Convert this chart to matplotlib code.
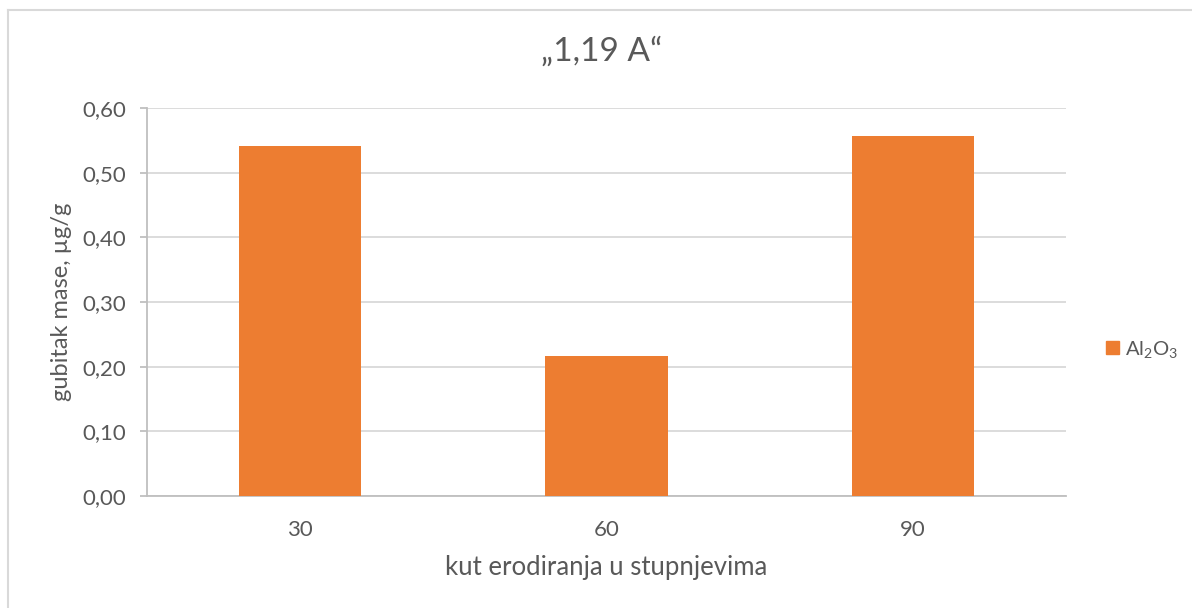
import matplotlib
matplotlib.use("Agg")
import matplotlib.pyplot as plt
import matplotlib.patches as mpatches
from matplotlib.lines import Line2D
import numpy as np

# Data
categories = ["30", "60", "90"]
values = [0.541, 0.216, 0.557]
series_name = "Al$_2$O$_3$"
title = "„1,19 A“"
y_ticks = [0.0, 0.1, 0.2, 0.3, 0.4, 0.5, 0.6]

ORANGE = "#ED7D31"
TEXT = "#595959"
GRID = "#D9D9D9"

plt.rcParams["font.family"] = ["Lato", "DejaVu Sans"]
plt.rcParams["mathtext.default"] = "regular"

W, H = 1192, 608
fig = plt.figure(figsize=(W / 100, H / 100), dpi=100)
fig.patch.set_facecolor("white")
ax = fig.add_axes([147 / W, 1 - 496 / H, (1066 - 147) / W, (496 - 108) / H])

x = np.arange(len(categories))
ax.bar(x, values, width=0.4, color=ORANGE, zorder=3)

ax.set_xlim(-0.5, len(categories) - 0.5)
ax.set_ylim(0, 0.6)
ax.set_yticks(y_ticks)
ax.set_yticklabels([f"{v:.2f}".replace(".", ",") for v in y_ticks])
ax.set_xticks(x)
ax.set_xticklabels(categories)

ax.grid(axis="y", color=GRID, linewidth=1.3, zorder=0)
for side in ["top", "right"]:
    ax.spines[side].set_visible(False)
for side in ["left", "bottom"]:
    ax.spines[side].set_color("#BFBFBF")
    ax.spines[side].set_linewidth(1.3)

ax.tick_params(axis="y", colors="#BFBFBF", labelcolor=TEXT, labelsize=16,
               length=5, width=1.3, pad=10)
ax.tick_params(axis="x", length=0, labelcolor=TEXT, labelsize=16, pad=17)

ax.set_xlabel("kut erodiranja u stupnjevima", color=TEXT, fontsize=18.5, labelpad=11)
ax.set_ylabel("gubitak mase, µg/g", color=TEXT, fontsize=17)
ax.yaxis.set_label_coords(-0.082, 0.5)

fig.text(602 / W, 1 - 51 / H, title, ha="center", va="center",
         fontsize=24, color=TEXT)

handle = mpatches.Patch(color=ORANGE, label=series_name)
fig.legend(handles=[handle], loc="center left", bbox_to_anchor=(1106 / W, 1 - 349 / H),
           frameon=False, fontsize=14.5, handlelength=0.65, handleheight=0.65,
           handletextpad=0.3, labelcolor=TEXT, borderpad=0, borderaxespad=0)

# chart frame (top and left edges visible in the reference)
fig.add_artist(Line2D([8 / W, 1.0], [1 - 10 / H, 1 - 10 / H], color=GRID, linewidth=1.5,
                      transform=fig.transFigure))
fig.add_artist(Line2D([8 / W, 8 / W], [0, 1 - 10 / H], color=GRID, linewidth=1.5,
                      transform=fig.transFigure))

fig.savefig("out.png", dpi=100)
plt.close(fig)
